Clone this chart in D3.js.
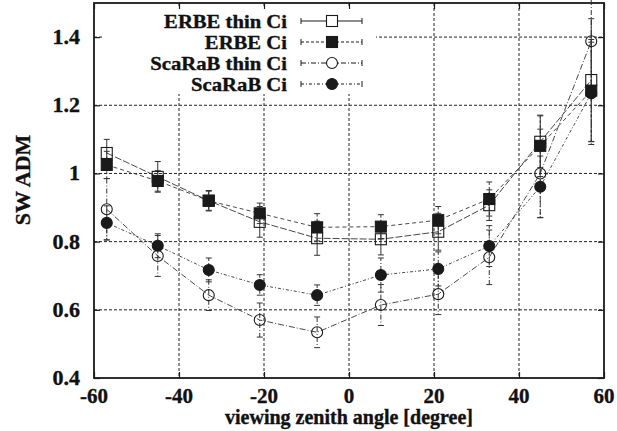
<!DOCTYPE html>
<html>
<head>
<meta charset="utf-8">
<script src="https://cdn.jsdelivr.net/npm/d3@7"></script>
<style>
  html, body { margin: 0; padding: 0; background: #fff; }
  svg { display: block; }
  text { font-family: "Liberation Serif", "Times New Roman", serif; font-weight: bold; fill: #111; stroke: #111; stroke-width: 0.35px; }
</style>
</head>
<body>
<svg id="chart" width="617" height="431"></svg>
<script>
// viewing zenith angles (degree)
const angles = [-57, -45, -33, -21, -7.5, 7.5, 21, 33, 45, 57];

// SW ADM values per series
const erbeThin   = [1.06, 0.99, 0.92, 0.858, 0.81, 0.807, 0.829, 0.907, 1.093, 1.274];
const erbeCi     = [1.025, 0.978, 0.92, 0.883, 0.842, 0.844, 0.863, 0.925, 1.081, 1.243];
const scarabThin = [0.895, 0.758, 0.643, 0.570, 0.534, 0.614, 0.646, 0.754, 1.0, 1.388];
const scarabCi   = [0.855, 0.788, 0.717, 0.673, 0.643, 0.702, 0.72, 0.787, 0.961, 1.235];

// error bar half-widths
const erbeThinErr   = [0.04, 0.045, 0.03, 0.045, 0.05, 0.046, 0.054, 0.045, 0.076, 0.18];
const erbeCiErr     = [0.04, 0.03, 0.028, 0.03, 0.04, 0.035, 0.04, 0.05, 0.09, 0.15];
const scarabThinErr = [0.09, 0.06, 0.045, 0.05, 0.045, 0.06, 0.06, 0.08, 0.13, 0.15];
const scarabCiErr   = [0.05, 0.035, 0.035, 0.03, 0.03, 0.05, 0.05, 0.06, 0.09, 0.15];

const seriesNames = ["ERBE thin Ci", "ERBE Ci", "ScaRaB thin Ci", "ScaRaB Ci"];
const xTicks = [-60, -40, -20, 0, 20, 40, 60];
const yTicks = [0.4, 0.6, 0.8, 1, 1.2, 1.4];

const series = [
  { name: seriesNames[0], values: erbeThin,   err: erbeThinErr,   shape: "square", filled: false, dash: "7,2",     keyDash: null },
  { name: seriesNames[1], values: erbeCi,     err: erbeCiErr,     shape: "square", filled: true,  dash: "4,3",     keyDash: "3,2" },
  { name: seriesNames[2], values: scarabThin, err: scarabThinErr, shape: "circle", filled: false, dash: "6,2,1,2", keyDash: "5,2,1,2" },
  { name: seriesNames[3], values: scarabCi,   err: scarabCiErr,   shape: "circle", filled: true,  dash: "3,2,1,2", keyDash: "3,2,1,2" }
];

const svg = d3.select("#chart");
const plotL = 94, plotR = 604, plotT = 3, plotB = 378;

const x = d3.scaleLinear().domain([-60, 60]).range([plotL, plotR]);
const y = d3.scaleLinear().domain([0.4, 1.5]).range([plotB, plotT]);

const ink = "#1a1a1a";

// grid
const grid = svg.append("g");
grid.selectAll("line.gx").data(xTicks.filter(d => d > -60 && d < 60)).enter().append("line")
  .attr("x1", d => x(d)).attr("x2", d => x(d))
  .attr("y1", plotT).attr("y2", plotB)
  .attr("stroke", "#222").attr("stroke-width", 1).attr("stroke-dasharray", "3,2");
grid.selectAll("line.gy").data(yTicks.filter(d => d > 0.4)).enter().append("line")
  .attr("x1", plotL).attr("x2", plotR)
  .attr("y1", d => y(d)).attr("y2", d => y(d))
  .attr("stroke", "#222").attr("stroke-width", 1).attr("stroke-dasharray", "3,2");

// key area kept clear of grid
svg.append("rect").attr("x", plotL + 8).attr("y", plotT + 5)
  .attr("width", 376 - plotL - 8).attr("height", 94 - plotT - 5).attr("fill", "#fff");

// axes with inward ticks
const axB = d3.axisBottom(x).tickValues(xTicks).tickSize(-6).tickFormat("");
const axT = d3.axisTop(x).tickValues(xTicks).tickSize(-6).tickFormat("");
const axL = d3.axisLeft(y).tickValues(yTicks).tickSize(-6).tickFormat("");
const axR = d3.axisRight(y).tickValues(yTicks).tickSize(-6).tickFormat("");
[[axB, `translate(0,${plotB})`], [axT, `translate(0,${plotT})`], [axL, `translate(${plotL},0)`], [axR, `translate(${plotR},0)`]]
  .forEach(([ax, tr]) => {
    const g = svg.append("g").attr("transform", tr).call(ax);
    g.select(".domain").remove();
    g.selectAll("line").attr("stroke", ink).attr("stroke-width", 1.2);
  });

// frame
svg.append("rect").attr("x", plotL).attr("y", plotT)
  .attr("width", plotR - plotL).attr("height", plotB - plotT)
  .attr("fill", "none").attr("stroke", ink).attr("stroke-width", 1.8);

// tick labels
svg.append("g").selectAll("text").data(xTicks).enter().append("text")
  .attr("x", d => x(d)).attr("y", 403)
  .attr("text-anchor", "middle").attr("font-size", 21)
  .text(d => d);
svg.append("g").selectAll("text").data(yTicks).enter().append("text")
  .attr("x", 80).attr("y", d => y(d) + 7)
  .attr("text-anchor", "end").attr("font-size", 22)
  .text(d => d);

// axis titles
svg.append("text").attr("x", 349).attr("y", 424)
  .attr("text-anchor", "middle").attr("font-size", 20)
  .text("viewing zenith angle [degree]");
svg.append("text").attr("transform", "translate(30,180) rotate(-90)")
  .attr("text-anchor", "middle").attr("font-size", 22)
  .text("SW ADM");

// series: connecting lines and error bars
const plot = svg.append("g");
const line = d3.line().x(d => x(d[0])).y(d => y(d[1]));

series.forEach(s => {
  const pts = angles.map((a, i) => [a, s.values[i], s.err[i]]);
  plot.append("path").datum(pts).attr("d", line)
    .attr("fill", "none").attr("stroke", "#333").attr("stroke-width", 0.9)
    .attr("stroke-dasharray", s.dash);
  const eb = plot.append("g").attr("stroke", "#333").attr("stroke-width", 1);
  pts.forEach(p => {
    const px = x(p[0]), y1 = y(p[1] + p[2]), y2 = y(p[1] - p[2]);
    eb.append("line").attr("x1", px).attr("x2", px).attr("y1", y1).attr("y2", y2)
      .attr("stroke-dasharray", s.keyDash);
    eb.append("line").attr("x1", px - 3).attr("x2", px + 3).attr("y1", y1).attr("y2", y1);
    eb.append("line").attr("x1", px - 3).attr("x2", px + 3).attr("y1", y2).attr("y2", y2);
  });
});

function drawMarker(g, s, cx, cy, backing) {
  const size = 11;
  const fill = s.filled ? ink : (backing ? "#fff" : "none");
  if (s.shape === "square") {
    g.append("rect").attr("x", cx - size / 2).attr("y", cy - size / 2)
      .attr("width", size).attr("height", size)
      .attr("fill", fill).attr("stroke", ink).attr("stroke-width", 1.1);
  } else {
    g.append("circle").attr("cx", cx).attr("cy", cy).attr("r", size / 2)
      .attr("fill", fill).attr("stroke", ink).attr("stroke-width", 1.1);
  }
}

series.forEach(s => {
  const g = plot.append("g");
  angles.forEach((a, i) => drawMarker(g, s, x(a), y(s.values[i]), false));
});

// key
const key = svg.append("g");
series.forEach((s, i) => {
  const ky = 21 + i * 21;
  key.append("text").attr("transform", `translate(287,${ky + 7}) scale(1.1,1)`)
    .attr("text-anchor", "end").attr("font-size", 18.8).text(s.name);
  key.append("line").attr("x1", 301).attr("x2", 362).attr("y1", ky).attr("y2", ky)
    .attr("stroke", ink).attr("stroke-width", 1).attr("stroke-dasharray", s.keyDash);
  [301, 362].forEach(cx => key.append("line").attr("x1", cx).attr("x2", cx)
    .attr("y1", ky - 3).attr("y2", ky + 3).attr("stroke", ink).attr("stroke-width", 1));
  drawMarker(key.append("g"), s, 332, ky, true);
});
</script>
</body>
</html>
